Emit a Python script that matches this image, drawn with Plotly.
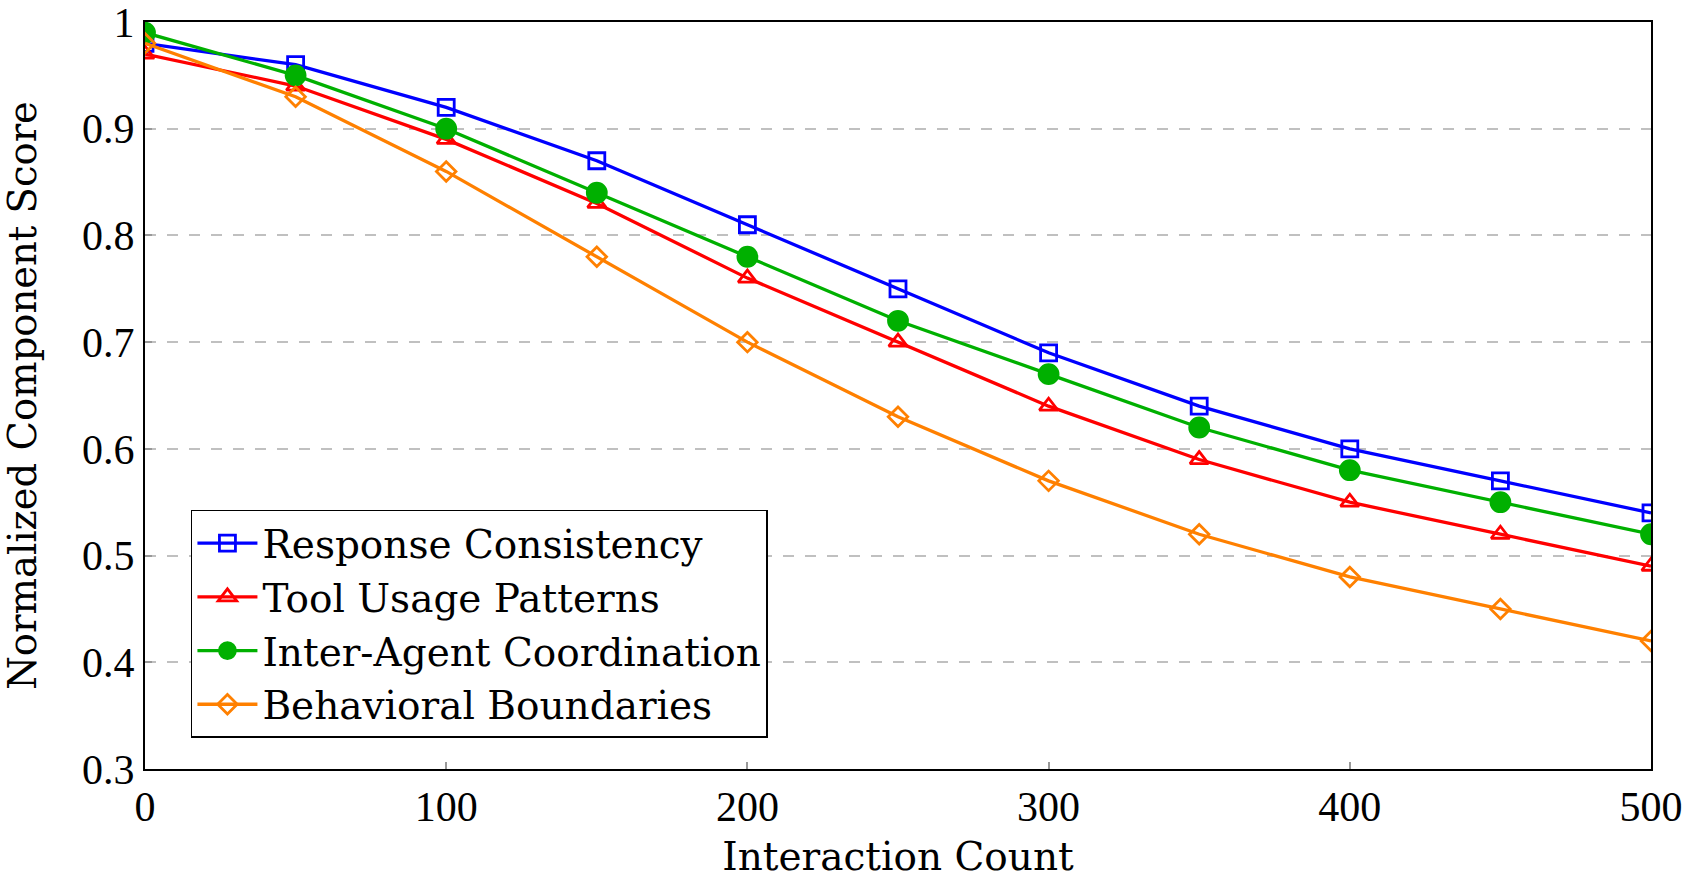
import plotly.graph_objects as go

interaction_count = [0, 50, 100, 150, 200, 250, 300, 350, 400, 450, 500]
response_consistency = [0.98, 0.96, 0.92, 0.87, 0.81, 0.75, 0.69, 0.64, 0.60, 0.57, 0.54]
tool_usage_patterns = [0.97, 0.94, 0.89, 0.83, 0.76, 0.70, 0.64, 0.59, 0.55, 0.52, 0.49]
inter_agent_coordination = [0.99, 0.95, 0.90, 0.84, 0.78, 0.72, 0.67, 0.62, 0.58, 0.55, 0.52]
behavioral_boundaries = [0.98, 0.93, 0.86, 0.78, 0.70, 0.63, 0.57, 0.52, 0.48, 0.45, 0.42]

y_tick_values = [0.3, 0.4, 0.5, 0.6, 0.7, 0.8, 0.9, 1.0]
y_tick_labels = ["0.3", "0.4", "0.5", "0.6", "0.7", "0.8", "0.9", "1"]
x_tick_values = [0, 100, 200, 300, 400, 500]

series = [
    ("Response Consistency", response_consistency, "#0000ff", "square-open", 16),
    ("Tool Usage Patterns", tool_usage_patterns, "#ff0000", "triangle-up-open", 16),
    ("Inter-Agent Coordination", inter_agent_coordination, "#00b000", "circle", 19),
    ("Behavioral Boundaries", behavioral_boundaries, "#ff8000", "diamond-open", 15),
]

TEXT_FONT = "DejaVu Serif"
NUM_FONT = "Liberation Serif"

fig = go.Figure()
for name, vals, color, sym, size in series:
    fig.add_trace(go.Scatter(
        x=interaction_count, y=vals, name=name, mode="lines+markers",
        line=dict(color=color, width=3.3),
        marker=dict(symbol=sym, size=size, color=color, line=dict(color=color, width=2.8)),
    ))

fig.update_layout(
    width=1684, height=879,
    margin=dict(l=145, r=33, t=22, b=110),
    paper_bgcolor="white", plot_bgcolor="white",
    font=dict(family=TEXT_FONT, size=39, color="black"),
    showlegend=True,
    legend=dict(
        x=0.0305, y=0.347, xanchor="left", yanchor="top",
        bgcolor="white", bordercolor="black", borderwidth=1.5,
        font=dict(family=TEXT_FONT, size=39, color="black"),
        tracegroupgap=0, itemwidth=60,
    ),
    xaxis=dict(
        title=dict(text="Interaction Count", font=dict(family=TEXT_FONT, size=39), standoff=24),
        range=[0, 500], tickvals=x_tick_values,
        showgrid=False, zeroline=False, automargin=False,
        showline=True, linecolor="black", linewidth=2, mirror=True,
        ticks="inside", ticklen=7, tickcolor="#999999", tickwidth=1.5,
        tickfont=dict(family=NUM_FONT, size=42), ticklabeloverflow="allow",
    ),
    yaxis=dict(
        title=dict(text="Normalized Component Score", font=dict(family=TEXT_FONT, size=38.5), standoff=38),
        range=[0.3, 1.0], tickvals=y_tick_values, ticktext=y_tick_labels,
        showgrid=True, gridcolor="#c0c0c0", griddash="11px,11px", gridwidth=2,
        zeroline=False, automargin=False,
        showline=True, linecolor="black", linewidth=2, mirror=True,
        ticks="inside", ticklen=7, tickcolor="#999999", tickwidth=1.5,
        tickfont=dict(family=NUM_FONT, size=42), ticklabeloverflow="allow",
    ),
)

fig.write_html("out.html")
